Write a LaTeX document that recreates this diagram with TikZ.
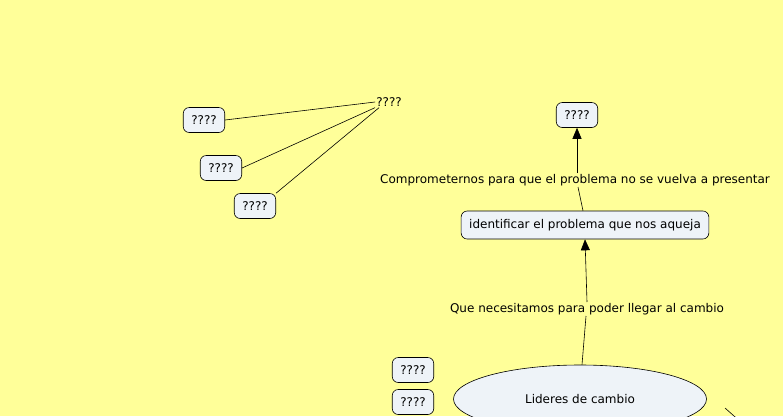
\documentclass[tikz,border=0pt]{standalone}
\usepackage{fontspec}
\setmainfont{DejaVu Sans}
\usetikzlibrary{arrows.meta,shapes.geometric}
\begin{document}
\begin{tikzpicture}[x=1pt,y=-1pt,font=\fontsize{12}{14}\selectfont,
  concept/.style={draw,rounded corners=6pt,fill=boxfill,line width=0.6pt,inner xsep=8pt,minimum height=25pt},
  linkword/.style={inner sep=1pt,fill=bg},
  link/.style={line width=0.6pt},
  linkarrow/.style={line width=0.6pt,-{Triangle[length=11pt,width=9pt]}}]
\definecolor{bg}{HTML}{FFFF99}
\definecolor{boxfill}{HTML}{EEF3F8}
\fill[bg] (0,0) rectangle (783,416);
\clip (0,0) rectangle (783,416);
% left group
\node[inner sep=1pt] (qa) at (389,102) {????};
\node[concept] (qb) at (204,120) {????};
\node[concept] (qc) at (221,168) {????};
\node[concept] (qd) at (255,206) {????};
\draw[link] (qa.west) -- (qb.east);
\draw[link] (qa.south west) -- (qc.east);
\draw[link] (qa.south west) ++(4,0) -- (qd.north east);
% right branch
\node[concept] (top) at (577,115) {????};
\node[linkword] (comp) at (575,180) {Comprometernos para que el problema no se vuelva a presentar};
\node[concept,minimum height=28pt] (ident) at (585,225) {identificar el problema que nos aqueja};
\node[linkword] (need) at (587,309) {Que necesitamos para poder llegar al cambio};
\node[draw,ellipse,fill=boxfill,line width=0.6pt,minimum width=253pt,minimum height=68pt] (lider) at (580,399) {};
\node at (580,399) {Lideres de cambio};
\node[concept] (qe) at (413,370) {????};
\node[concept] (qf) at (413,402) {????};
\coordinate (off) at (752,432);
\draw[link] (ident.north -| 583,0) -- (comp.south -| 578,0);
\draw[linkarrow] (comp.north -| 577,0) -- (top.south);
\draw[link] (lider.north -| 582,0) -- (need.south -| 586,0);
\draw[linkarrow] (need.north -| 587,0) -- (ident.south);
\draw[link] (725,408) -- (off);
\end{tikzpicture}
\end{document}
